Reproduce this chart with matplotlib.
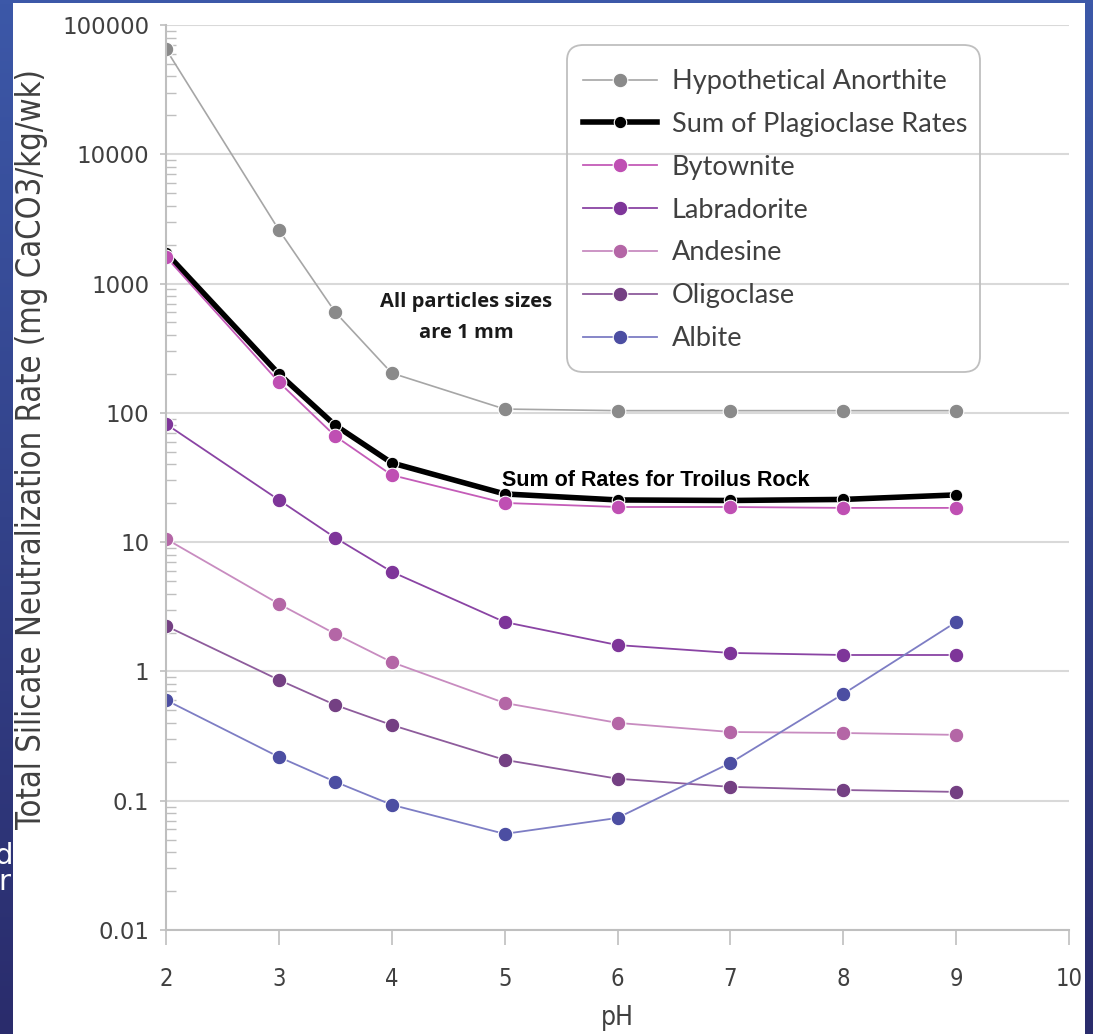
import matplotlib
matplotlib.use("Agg")
import matplotlib.pyplot as plt
import numpy as np
from matplotlib.patches import Rectangle, FancyBboxPatch
from matplotlib.ticker import LogLocator, NullFormatter, FixedLocator, FixedFormatter

ph = [2, 3, 3.5, 4, 5, 6, 7, 8, 9]
anorthite = [65000, 2600, 600, 203, 107, 104, 104, 104, 104]
sum_plag = [1725, 200, 80, 41, 23.6, 21.2, 21.0, 21.4, 23.2]
bytownite = [1610, 173, 66, 33, 20.1, 18.7, 18.7, 18.4, 18.4]
labradorite = [82, 21.2, 10.8, 5.9, 2.41, 1.6, 1.39, 1.34, 1.34]
andesine = [10.6, 3.33, 1.95, 1.18, 0.57, 0.40, 0.34, 0.334, 0.323]
oligoclase = [2.25, 0.86, 0.55, 0.385, 0.207, 0.148, 0.128, 0.121, 0.117]
albite = [0.60, 0.218, 0.14, 0.093, 0.0554, 0.0736, 0.196, 0.67, 2.41]

ytick_vals = [0.01, 0.1, 1, 10, 100, 1000, 10000, 100000]
ytick_labels = ["0.01", "0.1", "1", "10", "100", "1000", "10000", "100000"]
xtick_vals = [2, 3, 4, 5, 6, 7, 8, 9, 10]

W, H = 1093, 1034
fig = plt.figure(figsize=(W / 100, H / 100), dpi=100)

# blue slide background
bg = fig.add_axes([0, 0, 1, 1])
bg.set_zorder(-10)
grad = np.linspace(0, 1, 256).reshape(-1, 1)
top = np.array([60, 88, 168]) / 255.0
bot = np.array([42, 44, 108]) / 255.0
img = top[None, None, :] * (1 - grad[:, :, None]) + bot[None, None, :] * grad[:, :, None]
bg.imshow(img, aspect="auto", extent=[0, 1, 0, 1])
bg.set_xlim(0, 1); bg.set_ylim(0, 1)
bg.axis("off")

# partially hidden slide text
fig.text(13 / W, 1 - 856 / H, "d", color="white", fontsize=21, va="center", ha="right",
         family="DejaVu Sans", zorder=-6)
fig.text(10 / W, 1 - 882 / H, "r", color="white", fontsize=21, va="center", ha="right",
         family="DejaVu Sans", zorder=-6)

# white panel
panel = Rectangle((13 / W, 0), (1085 - 13) / W, 1 - 3 / H, transform=fig.transFigure,
                  facecolor="white", edgecolor="none", zorder=-5)
fig.patches.append(panel)

ax = fig.add_axes([166 / W, (H - 930) / H, (1069 - 166) / W, (930 - 25) / H])
ax.set_facecolor("none")

series = [
    ("Hypothetical Anorthite", anorthite, "#a6a6a6", "#8a8a8a", 1.2, 10.5),
    ("Sum of Plagioclase Rates", sum_plag, "#000000", "#000000", 4.0, 9.0),
    ("Bytownite", bytownite, "#c45cb8", "#bf4fb3", 1.3, 10.5),
    ("Labradorite", labradorite, "#8a44a4", "#7e3599", 1.3, 10.5),
    ("Andesine", andesine, "#c88cc0", "#b466a6", 1.3, 10.5),
    ("Oligoclase", oligoclase, "#8e5c9c", "#744083", 1.3, 10.5),
    ("Albite", albite, "#7d7dc4", "#4c4ea2", 1.3, 10.5),
]
for name, vals, lc, mc, lw, ms in series:
    ax.plot(ph, vals, color=lc, lw=lw, marker="o", ms=ms, markerfacecolor=mc,
            markeredgecolor="white", markeredgewidth=0.8, label=name)

ax.set_yscale("log")
ax.set_ylim(0.01, 100000)
ax.set_xlim(2, 10)

ax.yaxis.set_major_locator(FixedLocator(ytick_vals))
ax.yaxis.set_major_formatter(FixedFormatter(ytick_labels))
ax.yaxis.set_minor_locator(LogLocator(base=10, subs=np.arange(2, 10), numticks=50))
ax.yaxis.set_minor_formatter(NullFormatter())
ax.xaxis.set_major_locator(FixedLocator(xtick_vals))

ax.grid(axis="y", which="major", color="#d9d9d9", lw=1.5)
ax.set_axisbelow(True)
for s in ["top", "right"]:
    ax.spines[s].set_visible(False)
for s in ["left", "bottom"]:
    ax.spines[s].set_color("#bfbfbf")
    ax.spines[s].set_linewidth(1.5)

ax.tick_params(axis="y", which="major", direction="out", length=4, width=1.2,
               color="#bfbfbf", labelsize=16.5, labelcolor="#404040", pad=8)
ax.tick_params(axis="y", which="minor", direction="in", length=7, width=1.0,
               color="#bfbfbf")
ax.tick_params(axis="x", which="major", direction="out", length=11, width=1.2,
               color="#bfbfbf", labelsize=17, labelcolor="#404040", pad=16)
for lbl in ax.get_yticklabels():
    lbl.set_family("DejaVu Sans")
for lbl in ax.get_xticklabels():
    lbl.set_family("DejaVu Sans")
    lbl.set_fontstretch("condensed")

fig.text(617 / W, 1 - 1018 / H, "pH", ha="center", va="center", fontsize=19,
         color="#404040", family="DejaVu Sans", fontstretch="condensed")
fig.text(32 / W, 1 - 449 / H, "Total Silicate Neutralization Rate (mg CaCO3/kg/wk)",
         rotation=90, ha="center", va="center", fontsize=23.5, color="#404040",
         family="DejaVu Sans", fontstretch="condensed")

fig.text(466 / W, 1 - 302 / H, "All particles sizes", ha="center", va="center",
         fontsize=14.5, fontweight="bold", color="#1a1a1a", family="Open Sans")
fig.text(466 / W, 1 - 333 / H, "are 1 mm", ha="center", va="center",
         fontsize=14.5, fontweight="bold", color="#1a1a1a", family="Open Sans")
fig.text(502 / W, 1 - 481 / H, "Sum of Rates for Troilus Rock", ha="left", va="center",
         fontsize=15.5, fontweight="bold", color="black", family="Liberation Sans")

# legend: transparent, rounded frame drawn separately
frame = FancyBboxPatch((567 / W, 1 - 372 / H), (980 - 567) / W, (372 - 45) / H,
                       boxstyle="round,pad=0,rounding_size=0.015",
                       transform=fig.transFigure, facecolor="none",
                       edgecolor="#bfbfbf", lw=1.3, zorder=5)
fig.patches.append(frame)
leg = ax.legend(loc="upper left", bbox_to_anchor=(583 / W, 1 - 69 / H),
                bbox_transform=fig.transFigure, frameon=False,
                prop={"family": "Lato", "size": 19.5}, handlelength=2.73,
                handletextpad=0.55, labelspacing=0.66, borderpad=0,
                borderaxespad=0)
for t in leg.get_texts():
    t.set_color("#404040")

fig.savefig("out.png", dpi=100)
